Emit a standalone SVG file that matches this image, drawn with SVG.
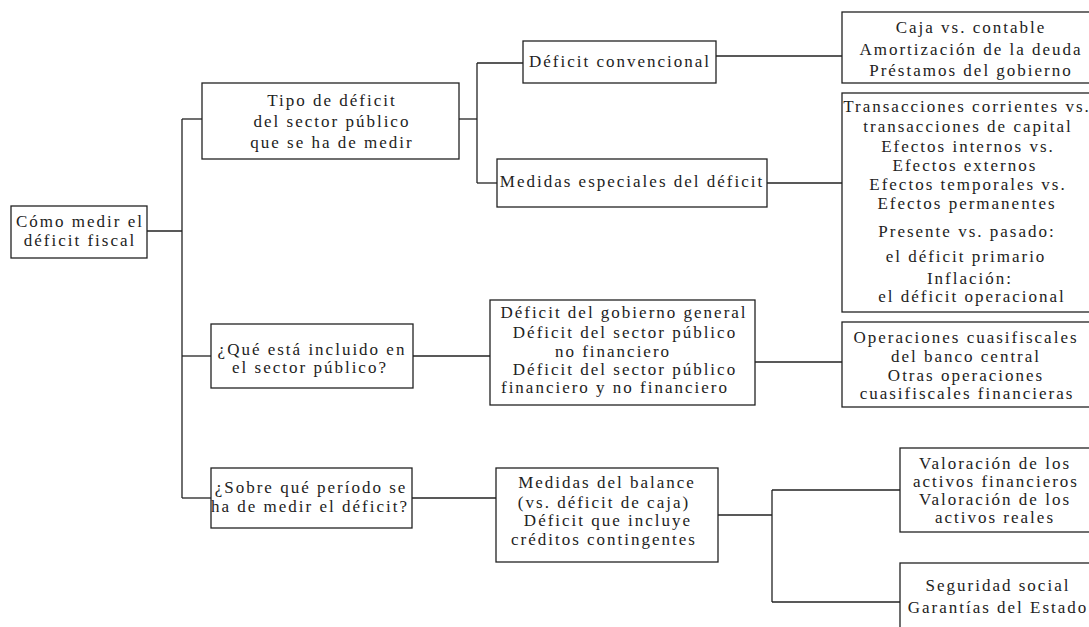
<svg xmlns="http://www.w3.org/2000/svg" width="1089" height="627" viewBox="0 0 1089 627">
<style>
.box{fill:#fff;stroke:#222;stroke-width:1.3}
line{stroke:#222;stroke-width:1.3}
text{font-family:"Liberation Serif","DejaVu Serif",serif;font-size:17px;letter-spacing:2px;fill:#222;text-anchor:middle}
</style>
<rect width="1089" height="627" fill="#fff"/>
<g id="connectors">
<line x1="147" y1="231" x2="182" y2="231"/>
<line x1="182" y1="119" x2="182" y2="498"/>
<line x1="182" y1="119" x2="202" y2="119"/>
<line x1="182" y1="356" x2="211" y2="356"/>
<line x1="182" y1="498" x2="211" y2="498"/>
<line x1="459" y1="119" x2="477" y2="119"/>
<line x1="477" y1="63" x2="477" y2="183"/>
<line x1="477" y1="63" x2="523" y2="63"/>
<line x1="477" y1="183" x2="497" y2="183"/>
<line x1="716" y1="56" x2="842" y2="56"/>
<line x1="767" y1="183" x2="842" y2="183"/>
<line x1="413" y1="356" x2="490" y2="356"/>
<line x1="755" y1="362" x2="842" y2="362"/>
<line x1="412" y1="498" x2="496" y2="498"/>
<line x1="718" y1="515" x2="772" y2="515"/>
<line x1="772" y1="490" x2="772" y2="602"/>
<line x1="772" y1="490" x2="900" y2="490"/>
<line x1="772" y1="602" x2="900" y2="602"/>
</g>
<g id="root">
<rect class="box" x="11" y="206" width="136" height="52"/>
<text x="80" y="227">Cómo medir el</text>
<text x="80" y="246">déficit fiscal</text>
</g>
<g id="tipo">
<rect class="box" x="202" y="83" width="257" height="76"/>
<text x="332" y="106">Tipo de déficit</text>
<text x="332" y="127">del sector público</text>
<text x="332" y="148">que se ha de medir</text>
</g>
<g id="convencional">
<rect class="box" x="523" y="41" width="193" height="42"/>
<text x="620" y="67">Déficit convencional</text>
</g>
<g id="especiales">
<rect class="box" x="497" y="159" width="270" height="48"/>
<text x="632" y="187">Medidas especiales del déficit</text>
</g>
<g id="caja">
<rect class="box" x="842" y="12" width="255" height="71"/>
<text x="971" y="33">Caja vs. contable</text>
<text x="971" y="55">Amortización de la deuda</text>
<text x="971" y="76">Préstamos del gobierno</text>
</g>
<g id="transacciones">
<rect class="box" x="842" y="93" width="255" height="219"/>
<text x="967" y="112">Transacciones corrientes vs.</text>
<text x="968" y="132">transacciones de capital</text>
<text x="968" y="152">Efectos internos vs.</text>
<text x="965" y="171">Efectos externos</text>
<text x="968" y="190">Efectos temporales vs.</text>
<text x="967" y="209">Efectos permanentes</text>
<text x="967" y="237">Presente vs. pasado:</text>
<text x="966" y="262">el déficit primario</text>
<text x="970" y="284">Inflación:</text>
<text x="972" y="302">el déficit operacional</text>
</g>
<g id="incluido">
<rect class="box" x="211" y="324" width="202" height="64"/>
<text x="312" y="355">¿Qué está incluido en</text>
<text x="310" y="373">el sector público?</text>
</g>
<g id="gobierno">
<rect class="box" x="490" y="300" width="265" height="105"/>
<text x="624" y="318">Déficit del gobierno general</text>
<text x="625" y="338">Déficit del sector público</text>
<text x="613" y="357">no financiero</text>
<text x="625" y="375">Déficit del sector público</text>
<text x="615" y="393">financiero y no financiero</text>
</g>
<g id="cuasifiscales">
<rect class="box" x="842" y="322" width="255" height="85"/>
<text x="966" y="343">Operaciones cuasifiscales</text>
<text x="966" y="362">del banco central</text>
<text x="966" y="381">Otras operaciones</text>
<text x="967" y="399">cuasifiscales financieras</text>
</g>
<g id="periodo">
<rect class="box" x="211" y="468" width="201" height="60"/>
<text x="311" y="493">¿Sobre qué período se</text>
<text x="310" y="512">ha de medir el déficit?</text>
</g>
<g id="balance">
<rect class="box" x="496" y="468" width="222" height="94"/>
<text x="607" y="488">Medidas del balance</text>
<text x="604" y="508">(vs. déficit de caja)</text>
<text x="608" y="526">Déficit que incluye</text>
<text x="604" y="545">créditos contingentes</text>
</g>
<g id="valoracion">
<rect class="box" x="900" y="448" width="197" height="84"/>
<text x="995" y="469">Valoración de los</text>
<text x="996" y="487">activos financieros</text>
<text x="995" y="505">Valoración de los</text>
<text x="995" y="523">activos reales</text>
</g>
<g id="seguridad">
<rect class="box" x="900" y="563" width="197" height="70"/>
<text x="998" y="591">Seguridad social</text>
<text x="998" y="613">Garantías del Estado</text>
</g>
</svg>
